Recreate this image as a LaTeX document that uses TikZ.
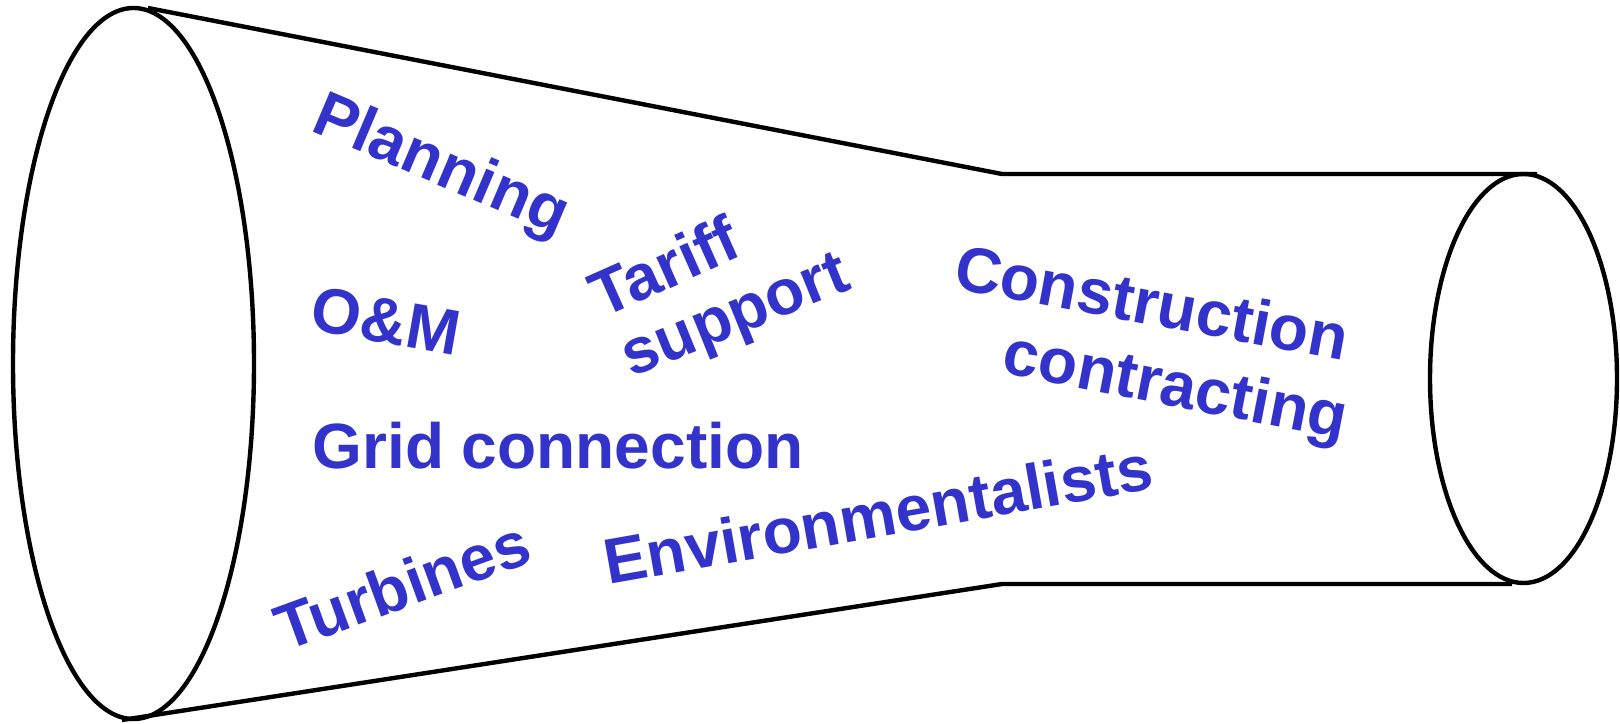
\documentclass[tikz,border=0pt]{standalone}
\usepackage{fontspec}
\setmainfont{Liberation Sans}
\definecolor{lblue}{HTML}{3333CC}
\begin{document}
\begin{tikzpicture}[x=1pt,y=-1pt,
  outline/.style={draw=black,line width=4.4pt,line join=round},
  lbl/.style={text=lblue,inner sep=0pt,font=\fontsize{64}{70}\selectfont\bfseries}]
\useasboundingbox (0,0) rectangle (1620,723);
% funnel outline
\draw[outline] (133.5,363.5) ellipse [x radius=120.5, y radius=355.5];
\draw[outline] (1523.5,378.5) ellipse [x radius=93.5, y radius=204.5];
\coordinate (tl) at (148,8);
\coordinate (tm) at (1002,174);
\coordinate (tr) at (1537,174);
\coordinate (bl) at (122,720);
\coordinate (bm) at (1002,584);
\coordinate (br) at (1512,584);
\draw[outline] (tl) -- (tm) -- (tr);
\draw[outline] (bl) -- (bm) -- (br);
% labels
\node[lbl,rotate=-23] (plan) at (440,168) {Planning};
\node[lbl,rotate=-10] (om) at (386,321) {O\&M};
\node[lbl,rotate=24] (tariff) at (664,266) {Tariff};
\node[lbl,rotate=22] (support) at (737,320) {support};
\node[lbl,rotate=-10.5] (constr) at (1152,302) {Construction};
\node[lbl,rotate=-11] (contr) at (1175,390) {contracting};
\node[lbl] (grid) at (558,446) {Grid connection};
\node[lbl,rotate=20] (turb) at (402,585) {Turbines};
\node[lbl,rotate=10] (env) at (878,514) {Environmentalists};
\end{tikzpicture}
\end{document}
